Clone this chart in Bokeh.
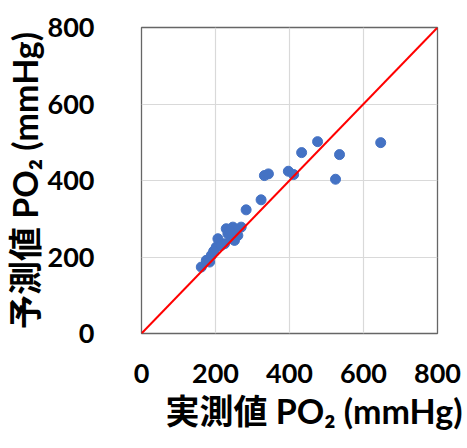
from bokeh.plotting import figure
from bokeh.models import Range1d, FixedTicker, Title
from bokeh.embed import file_html
from bokeh.resources import INLINE

# measured PO2 (x) vs predicted PO2 (y), mmHg
measured = [161.6, 175.1, 188.6, 184.1, 202.0, 206.5, 224.5, 229.0, 242.4, 247.0,
            251.3, 269.4, 282.8, 323.2, 332.2, 343.0, 396.9, 411.2, 432.8, 475.9,
            524.4, 535.2, 646.5, 233.5, 215.5, 260.4, 195.0, 238.0]
predicted = [173.7, 191.2, 204.2, 186.8, 225.9, 247.8, 234.7, 273.9, 247.8, 278.1,
             243.4, 278.1, 323.3, 349.5, 412.9, 417.3, 424.2, 415.5, 472.9, 501.6,
             403.3, 467.7, 499.0, 260.8, 230.3, 256.4, 215.0, 268.0]
identity = [0, 800]
ticks = [0, 200, 400, 600, 800]
x_title = "実測値 PO₂ (mmHg)"
y_title = "予測値 PO₂ (mmHg)"

lab_font = "Lato, Noto Sans CJK JP"

p = figure(width=466, height=447, output_backend="svg", toolbar_location=None,
           x_range=Range1d(0, 800), y_range=Range1d(0, 800),
           min_border_left=140, min_border_right=29, min_border_top=27,
           min_border_bottom=114)
p.background_fill_color = "white"
p.border_fill_color = "white"
p.outline_line_color = "#666666"
p.outline_line_width = 1.3

for ax in (p.xaxis, p.yaxis):
    ax.ticker = FixedTicker(ticks=ticks)
    ax.axis_line_color = None
    ax.major_tick_line_color = None
    ax.minor_tick_line_color = None
    ax.major_tick_out = 0
    ax.major_tick_in = 0
    ax.major_label_text_font = "Lato"
    ax.major_label_text_font_style = "bold"
    ax.major_label_text_font_size = "27px"
    ax.major_label_text_color = "black"
p.xaxis.major_label_standoff = 30
p.yaxis.major_label_standoff = 47

p.yaxis.axis_label = y_title
p.yaxis.axis_label_standoff = 0
p.yaxis.axis_label_text_font = lab_font
p.yaxis.axis_label_text_font_style = "bold"
p.yaxis.axis_label_text_font_size = "34px"
p.yaxis.axis_label_text_color = "black"

p.grid.grid_line_color = "#d9d9d9"
p.grid.grid_line_width = 1.2

p.scatter(measured, predicted, size=10, color="#4472C4", line_color="#4472C4")
p.line(identity, identity, line_color="red", line_width=2)

p.add_layout(Title(text=x_title, align="right", offset=-25, standoff=4,
                   text_font=lab_font, text_font_style="bold",
                   text_font_size="34px", text_color="black"), "below")

open("out.html", "w").write(file_html(p, INLINE))
